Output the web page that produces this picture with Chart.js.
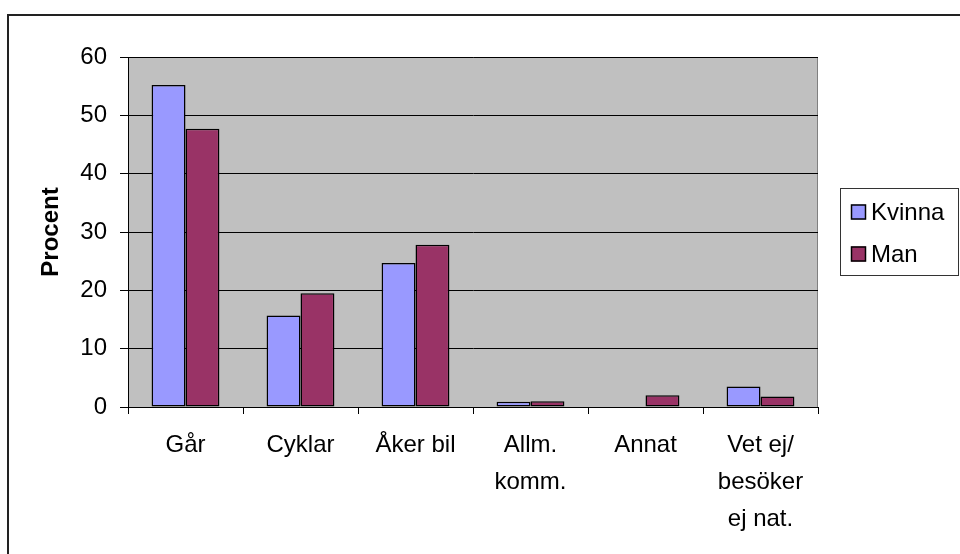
<!DOCTYPE html>
<html>
<head>
<meta charset="utf-8">
<script src="https://cdn.jsdelivr.net/npm/chart.js@4/dist/chart.umd.min.js"></script>
<style>
html,body{margin:0;padding:0;background:#fff;}
#wrap{width:960px;height:554px;position:relative;}
</style>
</head>
<body>
<div id="wrap"><canvas id="c" width="960" height="554"></canvas></div>
<script>
const categories = [['Går'], ['Cyklar'], ['Åker bil'], ['Allm.', 'komm.'], ['Annat'], ['Vet ej/', 'besöker', 'ej nat.']];
const kvinna = [55.2, 15.7, 24.7, 0.9, 0, 3.5];
const man = [47.7, 19.5, 27.8, 1.0, 2.0, 1.8];
const yTicks = [0, 10, 20, 30, 40, 50, 60];
const seriesNames = ['Kvinna', 'Man'];
const seriesColors = ['#9999FF', '#993366'];

const FONT = '"Liberation Sans", Arial, sans-serif';

const framePlugin = {
  id: 'frame',
  beforeDraw(chart) {
    const ctx = chart.ctx, a = chart.chartArea;
    ctx.save();
    ctx.fillStyle = '#fff';
    ctx.fillRect(0, 0, chart.width, chart.height);
    ctx.fillStyle = '#C0C0C0';
    ctx.fillRect(a.left, a.top, a.right - a.left, a.bottom - a.top);
    ctx.strokeStyle = '#808080';
    ctx.lineWidth = 1;
    ctx.strokeRect(a.left + 0.5, a.top + 0.5, a.right - a.left - 1, a.bottom - a.top);
    ctx.restore();
  },
  afterDraw(chart) {
    const ctx = chart.ctx;
    ctx.save();
    // outer chart frame (cropped at right/bottom)
    ctx.strokeStyle = '#222';
    ctx.lineWidth = 2;
    ctx.strokeRect(8, 15, 1000, 600);
    // legend
    const lx = 840, ly = 188, lw = 118, lh = 87;
    ctx.fillStyle = '#fff';
    ctx.fillRect(lx, ly, lw, lh);
    ctx.strokeStyle = '#333';
    ctx.lineWidth = 1;
    ctx.strokeRect(lx + 0.5, ly + 0.5, lw, lh);
    ctx.font = '24px ' + FONT;
    ctx.textBaseline = 'middle';
    ctx.textAlign = 'left';
    chart.data.datasets.forEach((ds, i) => {
      const cy = 212 + i * 42;
      ctx.fillStyle = ds.backgroundColor;
      ctx.fillRect(851, cy - 7.5, 15, 15);
      ctx.strokeStyle = '#000';
      ctx.lineWidth = 1.5;
      ctx.strokeRect(851.5, cy - 7, 14, 14);
      ctx.fillStyle = '#000';
      ctx.fillText(ds.label, 871, cy + 1);
    });
    ctx.restore();
  }
};

new Chart(document.getElementById('c'), {
  type: 'bar',
  data: {
    labels: categories,
    datasets: [
      { label: seriesNames[0], data: kvinna, backgroundColor: seriesColors[0], borderColor: '#000', borderWidth: 1.5, borderSkipped: false },
      { label: seriesNames[1], data: man, backgroundColor: seriesColors[1], borderColor: '#000', borderWidth: 1.5, borderSkipped: false }
    ]
  },
  options: {
    responsive: false,
    animation: false,
    devicePixelRatio: 1,
    layout: { padding: { top: 57, right: 142, left: 0, bottom: 0 } },
    plugins: { legend: { display: false }, tooltip: { enabled: false } },
    datasets: { bar: { categoryPercentage: 0.59, barPercentage: 1.0 } },
    scales: {
      x: {
        grid: { display: true, drawOnChartArea: false, drawTicks: true, tickLength: 7, color: '#000', offset: true },
        border: { display: true, color: '#000', width: 1 },
        ticks: { color: '#000', font: { family: FONT, size: 24, lineHeight: 1.54 }, padding: 13, maxRotation: 0, autoSkip: false },
        afterFit(s) { s.height = 147; }
      },
      y: {
        min: 0, max: 60,
        afterBuildTicks(s) { s.ticks = yTicks.map(v => ({ value: v })); },
        grid: { color: '#000', lineWidth: 1, drawTicks: true, tickLength: 8 },
        border: { display: true, color: '#000', width: 1 },
        ticks: { color: '#000', font: { family: FONT, size: 24 }, padding: 13 },
        title: { display: true, text: 'Procent', color: '#000', font: { family: FONT, size: 24, weight: 'bold' }, padding: { top: 37, bottom: 0 } },
        afterFit(s) { s.width = 128; }
      }
    }
  },
  plugins: [framePlugin]
});
</script>
</body>
</html>
